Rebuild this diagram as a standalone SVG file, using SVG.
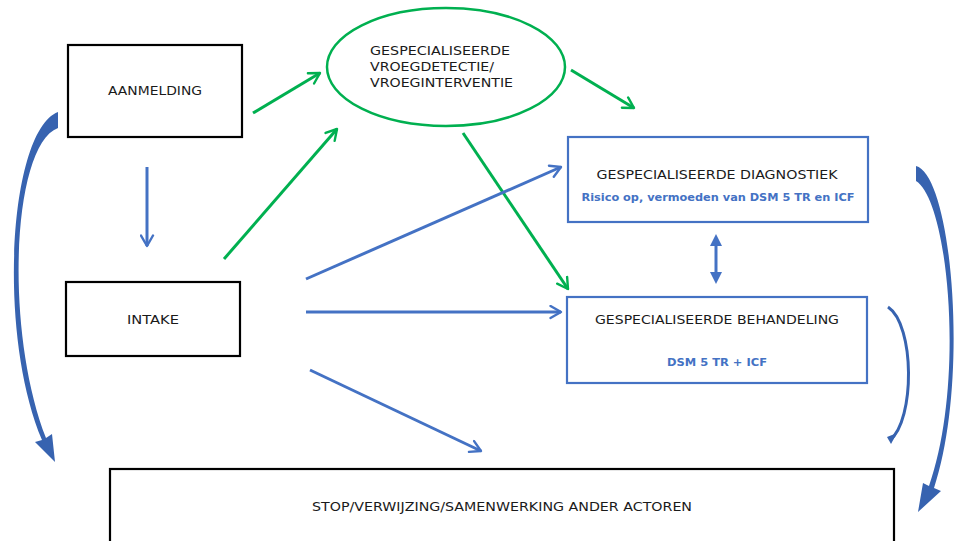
<svg xmlns="http://www.w3.org/2000/svg" width="954" height="541" viewBox="0 0 954 541">
<style>
text{font-family:"DejaVu Sans","Verdana",sans-serif;fill:#1a1a1a;font-size:12px}
.t{text-anchor:middle}
.sub{fill:#4472C4;font-weight:bold;font-size:10px;text-anchor:middle}
.bk{fill:#fff;stroke:#000;stroke-width:2.2}
.bl{fill:#fff;stroke:#4472C4;stroke-width:2.2}
.g{stroke:#00B050;stroke-width:3;fill:none;marker-end:url(#ag)}
.b{stroke:#4472C4;stroke-width:3;fill:none;marker-end:url(#ab)}
.curve{fill:#3763B0}
</style>
<defs>
<marker id="ag" viewBox="0 0 10 10" refX="8" refY="5" markerWidth="5" markerHeight="5" orient="auto" markerUnits="strokeWidth">
<path d="M1,1 L8,5 L1,9" fill="none" stroke="#00B050" stroke-width="1.6" stroke-linecap="round" stroke-linejoin="round"/>
</marker>
<marker id="ab" viewBox="0 0 10 10" refX="8" refY="5" markerWidth="5" markerHeight="5" orient="auto" markerUnits="strokeWidth">
<path d="M1,1 L8,5 L1,9" fill="none" stroke="#4472C4" stroke-width="1.6" stroke-linecap="round" stroke-linejoin="round"/>
</marker>
<marker id="ab2" viewBox="0 0 10 10" refX="5" refY="5" markerWidth="4" markerHeight="4" orient="auto-start-reverse" markerUnits="strokeWidth">
<path d="M0,0 L10,5 L0,10 Z" fill="#4472C4"/>
</marker>
</defs>

<g id="connectors">
<line class="g" x1="253" y1="113" x2="320" y2="73"/>
<line class="g" x1="224" y1="259" x2="337" y2="129"/>
<line class="g" x1="571" y1="70" x2="634" y2="108"/>
<line class="g" x1="463" y1="133" x2="568" y2="289"/>
<line class="b" x1="147" y1="167" x2="147" y2="246"/>
<line class="b" x1="306" y1="279" x2="561" y2="167"/>
<line class="b" x1="306" y1="312" x2="561" y2="312"/>
<line class="b" x1="310" y1="370" x2="481" y2="451"/>
<line x1="716" y1="240" x2="716" y2="278" stroke="#4472C4" stroke-width="3" marker-start="url(#ab2)" marker-end="url(#ab2)"/>
<!-- left curved arrow -->
<path class="curve" d="M58,112 C10,130 -4,330 42,440 L35,442 L55,462 L52,434 L46,438 C4,330 12,145 58,128 Z"/>
<!-- right big curved arrow -->
<path class="curve" d="M916,166 C952,175 970,380 934,488 L941,491 L918,512 L923,483 L929,486 C966,380 948,200 916,181 Z"/>
<!-- right small curved arrow -->
<path d="M888,307 C915,325 915,420 890,440" fill="none" stroke="#3763B0" stroke-width="3"/>
<path d="M887,437 L897,433 L891,444 Z" fill="#3763B0"/>
</g>

<g id="aanmelding">
<rect class="bk" x="68" y="45" width="174" height="92"/>
<text class="t" x="155" y="95" textLength="94" lengthAdjust="spacingAndGlyphs">AANMELDING</text>
</g>
<g id="intake">
<rect class="bk" x="66" y="282" width="174" height="74"/>
<text class="t" x="153" y="324" textLength="52" lengthAdjust="spacingAndGlyphs">INTAKE</text>
</g>
<g id="vroegdetectie">
<ellipse cx="446" cy="67" rx="119" ry="59" fill="#fff" stroke="#00B050" stroke-width="2.5"/>
<text x="370" y="55" textLength="140" lengthAdjust="spacingAndGlyphs">GESPECIALISEERDE</text>
<text x="370" y="71" textLength="124" lengthAdjust="spacingAndGlyphs">VROEGDETECTIE/</text>
<text x="370" y="87" textLength="143" lengthAdjust="spacingAndGlyphs">VROEGINTERVENTIE</text>
</g>
<g id="diagnostiek">
<rect class="bl" x="568" y="137" width="300" height="85"/>
<text class="t" x="717" y="179" textLength="241" lengthAdjust="spacingAndGlyphs">GESPECIALISEERDE DIAGNOSTIEK</text>
<text class="sub" x="718" y="201" textLength="273" lengthAdjust="spacingAndGlyphs">Risico op, vermoeden van DSM 5 TR en ICF</text>
</g>
<g id="behandeling">
<rect class="bl" x="567" y="297" width="300" height="86"/>
<text class="t" x="717" y="324" textLength="244" lengthAdjust="spacingAndGlyphs">GESPECIALISEERDE BEHANDELING</text>
<text class="sub" x="717" y="366" textLength="100" lengthAdjust="spacingAndGlyphs">DSM 5 TR + ICF</text>
</g>
<g id="stop">
<rect class="bk" x="110" y="469" width="784" height="90"/>
<text class="t" x="502" y="511" textLength="380" lengthAdjust="spacingAndGlyphs">STOP/VERWIJZING/SAMENWERKING ANDER ACTOREN</text>
</g>
</svg>
